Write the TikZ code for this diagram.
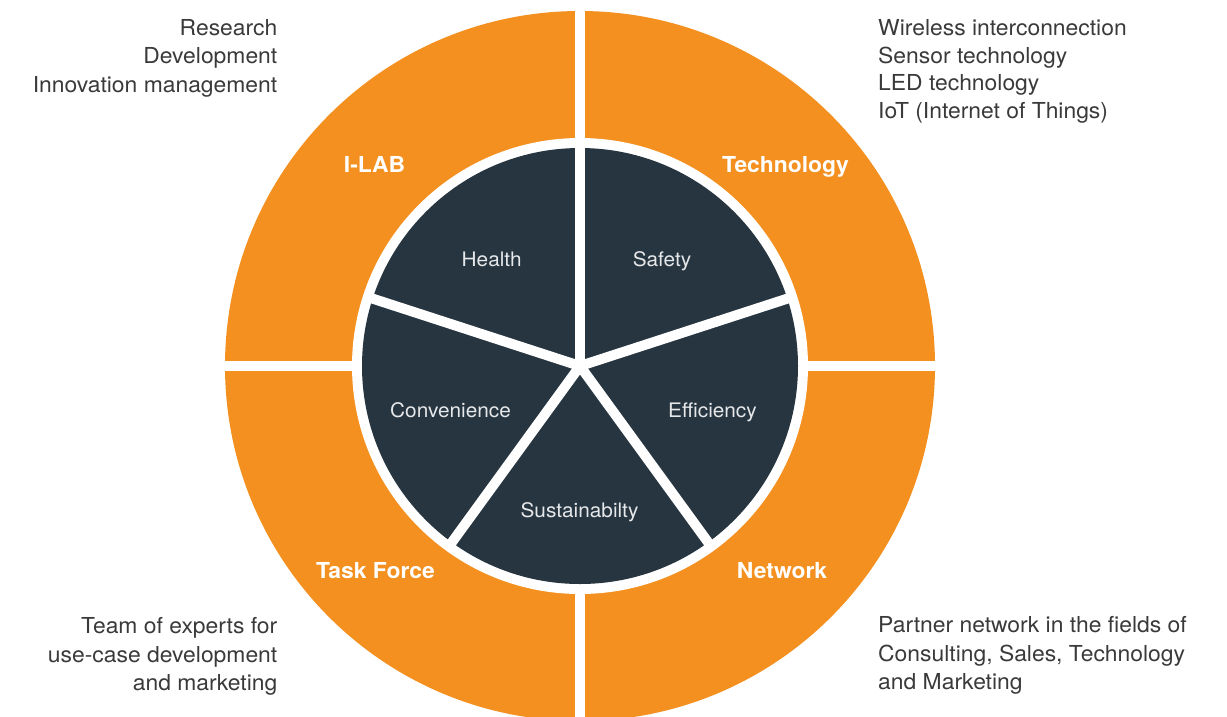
\documentclass[tikz,border=0pt]{standalone}
\usepackage{fontspec}
\setmainfont{TeX Gyre Heros}[FakeStretch=1.04]
\definecolor{orng}{HTML}{F4901F}
\definecolor{slate}{HTML}{263540}
\definecolor{txt}{HTML}{3A3A3A}
\definecolor{pale}{HTML}{E6E8EA}
\tikzset{
  gap/.style={white, line width=9.5pt, line cap=butt},
  divider/.style={white, line width=10pt, line cap=butt},
  ringlabel/.style={inner sep=0pt, anchor=base, text=white, font=\fontsize{22}{26}\selectfont\bfseries},
  pielabel/.style={inner sep=0pt, anchor=base, text=pale, font=\fontsize{20}{24}\selectfont},
  notel/.style={inner sep=0pt, anchor=base west, text=txt, font=\fontsize{22}{26}\selectfont},
  noter/.style={inner sep=0pt, anchor=base east, text=txt, font=\fontsize{22}{26}\selectfont}
}
\begin{document}
\begin{tikzpicture}[x=1pt,y=-1pt]
\useasboundingbox (0,0) rectangle (1227,716);
\fill[white] (0,0) rectangle (1227,716);
\coordinate (c) at (580,366);
% outer ring
\fill[orng] (c) circle[radius=355];
\fill[white] (c) circle[radius=228];
\fill[slate] (c) circle[radius=218];
% ring gaps
\coordinate (gt1) at (580,0);   \coordinate (gt2) at (580,145);
\coordinate (gb1) at (580,588); \coordinate (gb2) at (580,730);
\coordinate (gl1) at (210,366); \coordinate (gl2) at (360,366);
\coordinate (gr1) at (800,366); \coordinate (gr2) at (950,366);
\draw[gap] (gt1) -- (gt2);
\draw[gap] (gb1) -- (gb2);
\draw[gap] (gl1) -- (gl2);
\draw[gap] (gr1) -- (gr2);
% pie dividers (y axis points down)
\foreach \a in {-90,-18,54,126,198}
  \draw[divider] (c) -- ++(\a:220);
% ring labels
\node[ringlabel] (ilab) at (374.5,172.7) {I-LAB};
\node[ringlabel] (tech) at (785.5,172.7) {Technology};
\node[ringlabel] (task) at (375.5,578) {Task Force};
\node[ringlabel] (netw) at (782,578) {Network};
% pie labels
\node[pielabel] (health) at (491.7,266) {Health};
\node[pielabel] (safety) at (662,266) {Safety};
\node[pielabel] (conv) at (450.5,417) {Convenience};
\node[pielabel] (eff) at (712.5,417) {Efficiency};
\node[pielabel] (sust) at (579.5,517) {Sustainabilty};
% notes top left
\node[noter] (tl1) at (277.5,35) {Research};
\node[noter] (tl2) at (277.5,63.5) {Development};
\node[noter] (tl3) at (277.5,92) {Innovation management};
% notes top right
\node[notel] (tr1) at (878,35) {Wireless interconnection};
\node[notel] (tr2) at (878,63.3) {Sensor technology};
\node[notel] (tr3) at (878,90.7) {LED technology};
\node[notel] (tr4) at (878,118.3) {IoT (Internet of Things)};
% notes bottom left
\node[noter] (bl1) at (277.5,633.3) {Team of experts for};
\node[noter] (bl2) at (277.5,662) {use-case development};
\node[noter] (bl3) at (277.5,690) {and marketing};
% notes bottom right
\node[notel] (br1) at (878,632.3) {Partner network in the fields of};
\node[notel] (br2) at (878,661) {Consulting, Sales, Technology};
\node[notel] (br3) at (878,689.3) {and Marketing};
\end{tikzpicture}
\end{document}
